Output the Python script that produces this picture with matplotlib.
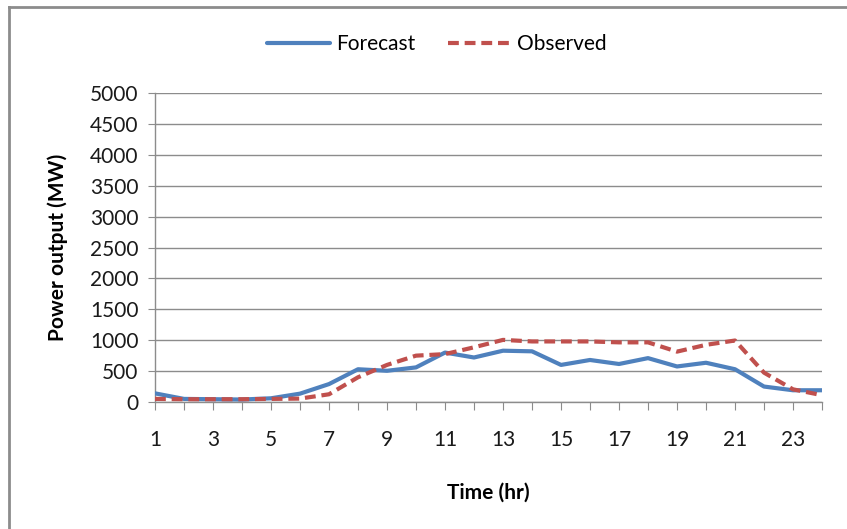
import matplotlib
matplotlib.use("Agg")
import matplotlib.pyplot as plt
from matplotlib.lines import Line2D

hours = list(range(1, 25))
forecast = [140, 50, 45, 40, 60, 135, 290, 530, 505, 560, 800, 720,
            830, 820, 600, 680, 615, 710, 575, 635, 530, 250, 190, 190]
observed = [50, 45, 45, 45, 50, 55, 125, 400, 600, 750, 775, 885,
            1005, 980, 980, 980, 965, 965, 815, 925, 995, 475, 205, 110]
y_ticks = list(range(0, 5001, 500))
x_tick_labels = [str(h) if h % 2 == 1 else "" for h in hours]

plt.rcParams['font.family'] = ['Lato', 'DejaVu Sans']

fig = plt.figure(figsize=(8.47, 5.29), dpi=100)
ax = fig.add_axes([155/847, 1-402/529, (822-155)/847, (402-93)/529])

blue = '#4F81BD'
red = '#C0504D'
grid_c = '#8C8C8C'

ax.plot(hours, forecast, color=blue, lw=3.0, label='Forecast', solid_capstyle='round', zorder=3)
ax.plot(hours, observed, color=red, lw=3.0, ls=(0, (2.6, 1.4)), label='Observed', zorder=3)

ax.set_xlim(1, 24)
ax.set_ylim(0, 5000)
ax.set_yticks(y_ticks)
ax.set_yticklabels([str(v) for v in y_ticks])
ax.set_xticks(hours)
ax.set_xticklabels(x_tick_labels)
ax.yaxis.grid(True, color=grid_c, lw=1.0)
ax.set_axisbelow(True)
for s in ['top', 'right']:
    ax.spines[s].set_visible(False)
for s in ['left', 'bottom']:
    ax.spines[s].set_color(grid_c)
    ax.spines[s].set_linewidth(1.0)
ax.tick_params(axis='x', direction='out', length=6, color=grid_c, labelsize=15, pad=14, labelcolor='#1a1a1a')
ax.tick_params(axis='y', direction='out', length=5, color=grid_c, labelsize=15, pad=7, labelcolor='#1a1a1a')

ax.set_ylabel('Power output (MW)', fontsize=15, fontweight='bold', labelpad=16)
ax.set_xlabel('Time (hr)', fontsize=15, fontweight='bold', labelpad=24)

leg = fig.legend(loc='center', bbox_to_anchor=(437/847, 1-44/529), ncol=2, frameon=False,
                 fontsize=15, handlelength=3.0, handletextpad=0.3, columnspacing=1.6)

# chart border (top and left visible)
fig.add_artist(Line2D([9/847, 9/847], [0, 1-7/529], transform=fig.transFigure, color='#8C8C8C', lw=2))
fig.add_artist(Line2D([9/847, 1], [1-7/529, 1-7/529], transform=fig.transFigure, color='#8C8C8C', lw=2))

fig.savefig('out.png', dpi=100)
